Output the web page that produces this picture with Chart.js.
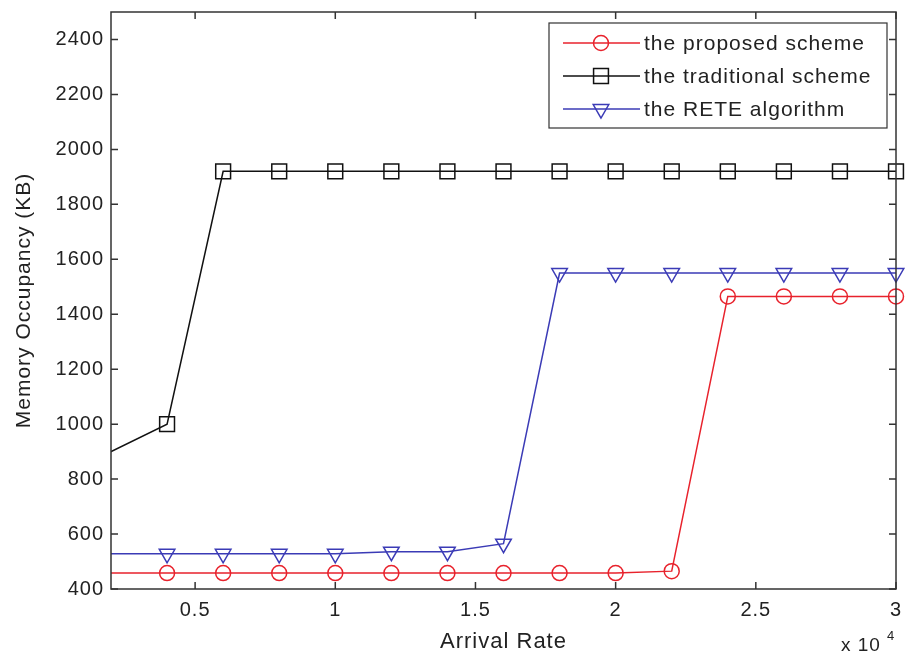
<!DOCTYPE html>
<html>
<head>
<meta charset="utf-8">
<script src="https://cdn.jsdelivr.net/npm/chart.js@4.4.0/dist/chart.umd.min.js"></script>
<style>
  html, body { margin: 0; padding: 0; background: #fff; }
  #wrap { width: 908px; height: 659px; }
</style>
</head>
<body>
<div id="wrap"><canvas id="myChart" width="908" height="659"></canvas></div>
<script>
// arrival rate (x 10^4)
var rate = [0, 0.4, 0.6, 0.8, 1.0, 1.2, 1.4, 1.6, 1.8, 2.0, 2.2, 2.4, 2.6, 2.8, 3.0];
var proposed    = [458, 458, 458, 458, 458, 458, 458, 458, 458, 458, 465, 1465, 1465, 1465, 1465];
var traditional = [800, 1000, 1920, 1920, 1920, 1920, 1920, 1920, 1920, 1920, 1920, 1920, 1920, 1920, 1920];
var rete        = [528, 528, 528, 528, 528, 536, 536, 565, 1550, 1550, 1550, 1550, 1550, 1550, 1550];

var xTicks = [0.5, 1, 1.5, 2, 2.5, 3];
var yTicks = [400, 600, 800, 1000, 1200, 1400, 1600, 1800, 2000, 2200, 2400];

var names = ['the proposed scheme', 'the traditional scheme', 'the RETE algorithm'];
var colors = ['#e8222c', '#111111', '#3b3bb6'];
var styles = ['circle', 'rect', 'triangle'];
var radii = [7.5, 10.5, 9];
var rotations = [0, 0, 180];

var FONT = '"Liberation Sans", Arial, sans-serif';

function pts(arr) {
    var out = [];
    for (var i = 0; i < rate.length; i++) out.push({x: rate[i], y: arr[i]});
    return out;
}

var allSeries = [proposed, traditional, rete];
var datasets = [];
for (var i = 0; i < 3; i++) {
    datasets.push({
        label: names[i],
        data: pts(allSeries[i]),
        borderColor: colors[i],
        backgroundColor: 'rgba(0,0,0,0)',
        borderWidth: 1.5,
        pointStyle: styles[i],
        pointRadius: radii[i],
        pointRotation: rotations[i],
        pointBorderWidth: 1.5,
        pointBorderColor: colors[i],
        pointBackgroundColor: 'rgba(0,0,0,0)',
        tension: 0,
        clip: {left: 0, top: false, right: false, bottom: false}
    });
}

// wider letter spacing, the reference font runs wide
var spacing = {
    id: 'spacing',
    beforeUpdate: function (chart) { chart.ctx.letterSpacing = '1px'; },
    beforeDraw: function (chart) { chart.ctx.letterSpacing = '1px'; }
};

// frame, inward ticks, legend box and the x10^4 note
var matlabLook = {
    id: 'matlabLook',
    afterDraw: function (chart) {
        var c = chart.ctx, a = chart.chartArea;
        var xs = chart.scales.x, ys = chart.scales.y;
        c.save();
        c.strokeStyle = '#333';
        c.lineWidth = 1.5;
        c.strokeRect(a.left, a.top, a.right - a.left, a.bottom - a.top);
        c.beginPath();
        xTicks.forEach(function (v) {
            var px = xs.getPixelForValue(v);
            c.moveTo(px, a.bottom); c.lineTo(px, a.bottom - 7);
            c.moveTo(px, a.top); c.lineTo(px, a.top + 7);
        });
        yTicks.forEach(function (v) {
            var py = ys.getPixelForValue(v);
            c.moveTo(a.left, py); c.lineTo(a.left + 7, py);
            c.moveTo(a.right, py); c.lineTo(a.right - 7, py);
        });
        c.stroke();

        // legend
        var bx = 549, by = 23, bw = 338, bh = 105;
        c.fillStyle = '#fff';
        c.fillRect(bx, by, bw, bh);
        c.lineWidth = 1.2;
        c.strokeStyle = '#333';
        c.strokeRect(bx, by, bw, bh);
        c.font = '21px ' + FONT;
        c.letterSpacing = '1px';
        c.textBaseline = 'middle';
        c.textAlign = 'left';
        for (var i = 0; i < 3; i++) {
            var ry = by + 20 + i * 33;
            c.strokeStyle = colors[i];
            c.lineWidth = 1.5;
            c.beginPath();
            c.moveTo(563, ry); c.lineTo(640, ry);
            c.stroke();
            c.fillStyle = 'rgba(0,0,0,0)';
            Chart.helpers.drawPoint(c, {
                pointStyle: styles[i], radius: radii[i], rotation: rotations[i], borderWidth: 1.5
            }, 601, ry);
            c.fillStyle = '#222';
            c.fillText(names[i], 644, ry + 1);
        }

        // exponent note
        c.letterSpacing = '1px';
        c.fillStyle = '#222';
        c.font = '19px ' + FONT;
        c.textBaseline = 'alphabetic';
        c.fillText('x 10', 841, 651);
        c.font = '13px ' + FONT;
        c.fillText('4', 887, 640);
        c.restore();
    }
};

var ctx = document.getElementById('myChart');
var myChart = new Chart(ctx, {
    type: 'line',
    data: { datasets: datasets },
    options: {
        responsive: false,
        animation: false,
        layout: { padding: { top: 11, right: 12, left: 0, bottom: 0 } },
        plugins: { legend: { display: false }, tooltip: { enabled: false } },
        scales: {
            x: {
                type: 'linear',
                min: 0.2,
                max: 3,
                afterBuildTicks: function (s) { s.ticks = xTicks.map(function (v) { return {value: v}; }); },
                afterFit: function (s) { s.height = 70; s.paddingLeft = 0; s.paddingRight = 0; },
                grid: { display: false, drawTicks: false },
                border: { display: false },
                ticks: {
                    color: '#222',
                    padding: 9,
                    maxRotation: 0,
                    font: { family: FONT, size: 20 },
                    callback: function (v) { return String(v); }
                },
                title: {
                    display: true,
                    text: 'Arrival Rate',
                    color: '#222',
                    font: { family: FONT, size: 22 },
                    padding: { top: 4, bottom: 4 }
                }
            },
            y: {
                min: 400,
                max: 2500,
                afterBuildTicks: function (s) { s.ticks = yTicks.map(function (v) { return {value: v}; }); },
                afterFit: function (s) { s.width = 111; s.paddingTop = 0; s.paddingBottom = 0; },
                grid: { display: false, drawTicks: false },
                border: { display: false },
                ticks: {
                    color: '#222',
                    padding: 7,
                    font: { family: FONT, size: 20 },
                    callback: function (v) { return String(v); }
                },
                title: {
                    display: true,
                    text: 'Memory Occupancy (KB)',
                    color: '#222',
                    font: { family: FONT, size: 21 },
                    padding: { top: 12, bottom: 0 }
                }
            }
        }
    },
    plugins: [spacing, matlabLook]
});
</script>
</body>
</html>
